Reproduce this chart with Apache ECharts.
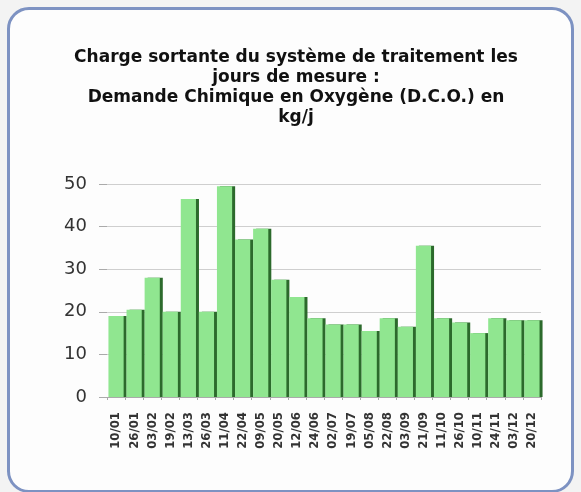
<!DOCTYPE html>
<html><head><meta charset="utf-8">
<script src="https://cdn.jsdelivr.net/npm/echarts@6/dist/echarts.min.js"></script>
<style>
html,body{margin:0;padding:0;background:#f3f3f3;}
#frame{position:absolute;left:7px;top:7px;width:561px;height:480px;border:3px solid #7d92c2;border-radius:22px;background:#fdfdfd;}
#chart{position:absolute;left:0;top:0;width:581px;height:492px;}
</style></head>
<body>
<div id="frame"></div>
<div id="chart"></div>
<script>
const categories = ["10/01","26/01","03/02","19/02","13/03","26/03","11/04","22/04","09/05","20/05","12/06","24/06","02/07","19/07","05/08","22/08","03/09","21/09","11/10","26/10","10/11","24/11","03/12","20/12"];
const dcoValues = [19,20.5,28,20,46.5,20,49.5,37,39.5,27.5,23.5,18.5,17,17,15.5,18.5,16.5,35.5,18.5,17.5,15,18.5,18,18];
const yTicks = [0,10,20,30,40,50];

const chart = echarts.init(document.getElementById('chart'), null, {renderer:'canvas'});
chart.setOption({
  animation:false,
  backgroundColor:'transparent',
  title:{
    text:'Charge sortante du système de traitement les\njours de mesure :\nDemande Chimique en Oxygène (D.C.O.) en\nkg/j',
    left:291, top:43, textAlign:'center',
    textStyle:{fontFamily:'DejaVu Sans', fontWeight:'bold', fontSize:17, lineHeight:20, color:'#111'}
  },
  grid:{left:107, right:40, top:184, bottom:95},
  xAxis:{
    type:'category', data:categories,
    axisLine:{lineStyle:{color:'#aaa'}},
    axisTick:{show:true, length:3, lineStyle:{color:'#aaa'}},
    axisLabel:{rotate:90, fontSize:13, fontWeight:'bold', color:'#333', fontFamily:'DejaVu Sans Condensed, DejaVu Sans', margin:15, interval:0}
  },
  yAxis:{
    type:'value', min:yTicks[0], max:yTicks[yTicks.length-1], interval:10,
    axisLine:{show:false},
    axisTick:{show:true, length:8, lineStyle:{color:'#aaa'}},
    splitLine:{lineStyle:{color:'#cfcfcf'}},
    axisLabel:{fontSize:18, color:'#333', fontFamily:'DejaVu Sans', margin:20}
  },
  series:[{
    type:'bar', data:dcoValues, barCategoryGap:'16%',
    itemStyle:{color:'#90e690', shadowColor:'#2c6a2c', shadowOffsetX:3, shadowOffsetY:0, shadowBlur:0}
  }]
});
</script>
</body></html>
